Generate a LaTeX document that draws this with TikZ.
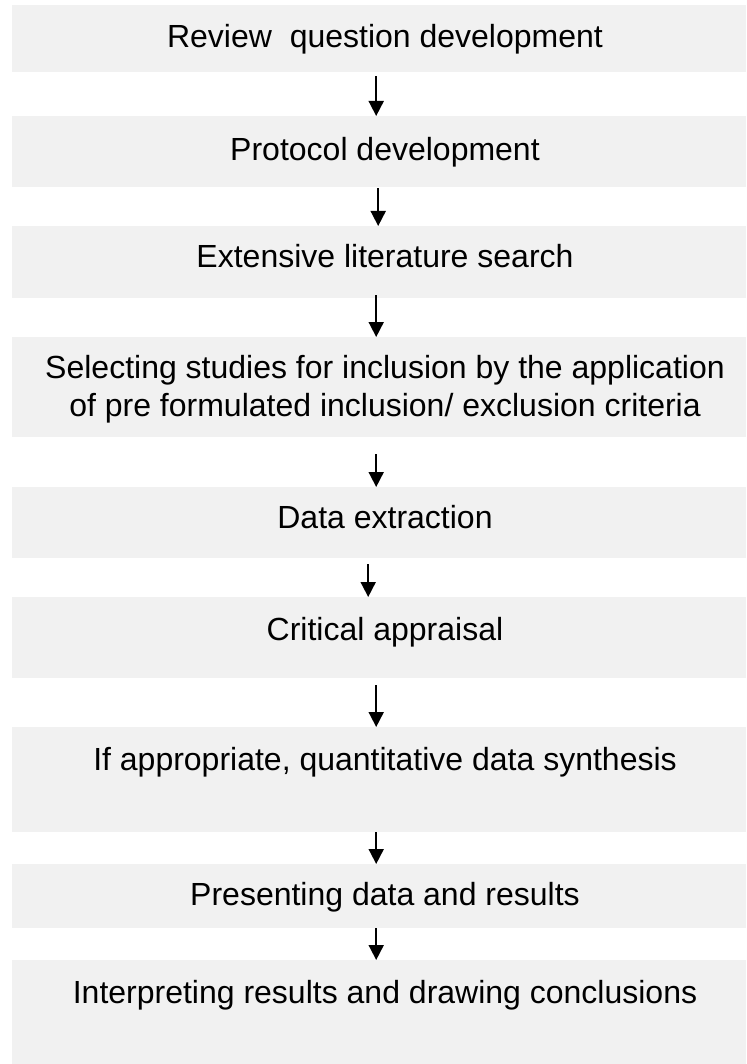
\documentclass[tikz,border=0pt]{standalone}
\usepackage{fontspec}
\setmainfont{Liberation Sans}
\usetikzlibrary{arrows.meta}
\definecolor{boxgrey}{RGB}{241,241,241}
\tikzset{
  stepbox/.style={fill=boxgrey, draw=none, anchor=north west, inner sep=0pt,
                  minimum width=734pt},
  steptext/.style={anchor=base, inner sep=0pt, align=center,
                   font=\fontsize{32}{38}\selectfont},
  flow/.style={line width=1.8pt, -{Triangle[width=15pt,length=15pt]}},
}
\begin{document}
\begin{tikzpicture}[x=1pt,y=-1pt]
\useasboundingbox (0,0) rectangle (746,1064);

% grey step boxes
\node[stepbox, minimum height=67pt]  (b1) at (12,5)   {};
\node[stepbox, minimum height=71pt]  (b2) at (12,116) {};
\node[stepbox, minimum height=72pt]  (b3) at (12,226) {};
\node[stepbox, minimum height=100pt] (b4) at (12,337) {};
\node[stepbox, minimum height=71pt]  (b5) at (12,487) {};
\node[stepbox, minimum height=81pt]  (b6) at (12,597) {};
\node[stepbox, minimum height=105pt] (b7) at (12,727) {};
\node[stepbox, minimum height=64pt]  (b8) at (12,864) {};
\node[stepbox, minimum height=104pt] (b9) at (12,960) {};

% step labels (base anchor = baseline of the last line)
\node[steptext] (t1) at (385,48)  {Review\ \ question development};
\node[steptext] (t2) at (385,161) {Protocol development};
\node[steptext] (t3) at (385,268) {Extensive literature search};
\node[steptext] (t4) at (385,416) {Selecting studies for inclusion by the application\\of pre formulated inclusion/ exclusion criteria};
\node[steptext] (t5) at (385,528) {Data extraction};
\node[steptext] (t6) at (385,640) {Critical appraisal};
\node[steptext] (t7) at (385,770) {If appropriate, quantitative data synthesis};
\node[steptext] (t8) at (385,905) {Presenting data and results};
\node[steptext] (t9) at (385,1003) {Interpreting results and drawing conclusions};

% connectors between steps
\draw[flow, shorten <=4pt]  ([xshift=-3pt]b1.south) -- ([xshift=-3pt]b2.north);
\draw[flow, shorten <=1pt]  ([xshift=-1pt]b2.south) -- ([xshift=-1pt]b3.north);
\draw[flow, shorten <=-3pt] ([xshift=-3pt]b3.south) -- ([xshift=-3pt]b4.north);
\draw[flow, shorten <=17pt] ([xshift=-3pt]b4.south) -- ([xshift=-3pt]b5.north);
\draw[flow, shorten <=6pt]  ([xshift=-11pt]b5.south) -- ([xshift=-11pt]b6.north);
\draw[flow, shorten <=7pt]  ([xshift=-3pt]b6.south) -- ([xshift=-3pt]b7.north);
\draw[flow]                 ([xshift=-3pt]b7.south) -- ([xshift=-3pt]b8.north);
\draw[flow]                 ([xshift=-3pt]b8.south) -- ([xshift=-3pt]b9.north);
\end{tikzpicture}
\end{document}
